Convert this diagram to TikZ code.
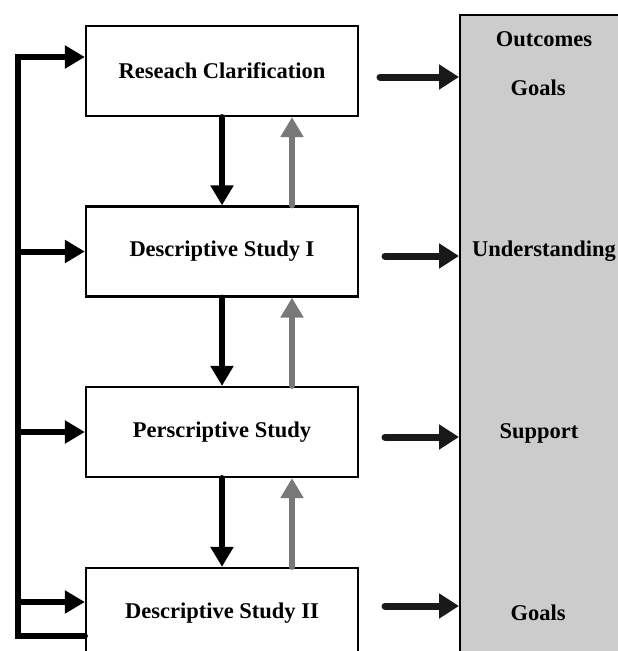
\documentclass[tikz,border=0pt]{standalone}
\usepackage{fontspec}
\setmainfont{Liberation Serif}
\usetikzlibrary{arrows.meta,calc}
\begin{document}
\begin{tikzpicture}[x=1pt,y=-1pt,
  stagebox/.style={draw=black,line width=2.2pt,fill=white,minimum width=272pt,minimum height=90pt,inner sep=0pt,font=\fontsize{22.5}{27}\selectfont\bfseries},
  paneltext/.style={font=\fontsize{22.5}{27}\selectfont\bfseries,inner sep=0pt},
  darrow/.style={line width=6pt,line cap=round,-{Triangle[length=20pt,width=22pt]}},
  garrow/.style={line width=6pt,line cap=round,draw={rgb,255:red,120;green,120;blue,120},-{Triangle[length=20pt,width=22pt]}},
  rarrow/.style={line width=7pt,line cap=round,draw={rgb,255:red,25;green,25;blue,25},-{Triangle[length=20pt,width=24pt]}},
  looparrow/.style={line width=6pt,-{Triangle[length=20pt,width=22pt]}},
]
\useasboundingbox (0,0) rectangle (618,651);
\clip (0,0) rectangle (618,651);
% panel
\node[draw=black,line width=2.2pt,fill={rgb,255:red,204;green,204;blue,204},minimum width=200pt,minimum height=700pt,anchor=north west,inner sep=0pt] (panel) at (459,14) {};
\node[paneltext] (out) at (544,39) {Outcomes};
\node[paneltext] (g1) at (538,88) {Goals};
\node[paneltext] (und) at (544,251) {Understanding};
\node[paneltext] (sup) at (539,433) {Support};
\node[paneltext] (g2) at (538,613) {Goals};
% boxes
\node[stagebox] (b1) at (222,71) {Reseach Clarification};
\node[stagebox] (b2) at (222,251.5) {Descriptive Study I};
\node[stagebox] (b3) at (222,432) {Perscriptive Study};
\node[stagebox] (b4) at (222,613) {Descriptive Study II};
% vertical arrows
\foreach \a/\b in {b1/b2,b2/b3,b3/b4}{
  \draw[darrow] ([xshift=0pt]\a.south) -- ([xshift=0pt]\b.north);
  \draw[garrow] ([xshift=70pt]\b.north) -- ([xshift=70pt]\a.south);
}
% left feedback loop
\coordinate (lbot) at (18,636);
\coordinate (ltop) at (18,57);
\draw[line width=6pt,line cap=round,line join=miter] (b4.west |- lbot) -- (lbot) -- (ltop);
\draw[looparrow] ([xshift=-3pt]ltop) -- (b1.west |- ltop);
\foreach \n/\yy in {b2/251.5,b3/432,b4/602}{
  \draw[looparrow] (18,\yy) -- (\n.west |- 0,\yy);
}
% right arrows
\draw[rarrow] (380,77) -- (panel.west |- 0,77);
\draw[rarrow] (385,256) -- (panel.west |- 0,256);
\draw[rarrow] (385,437) -- (panel.west |- 0,437);
\draw[rarrow] (385,606) -- (panel.west |- 0,606);
\end{tikzpicture}
\end{document}
